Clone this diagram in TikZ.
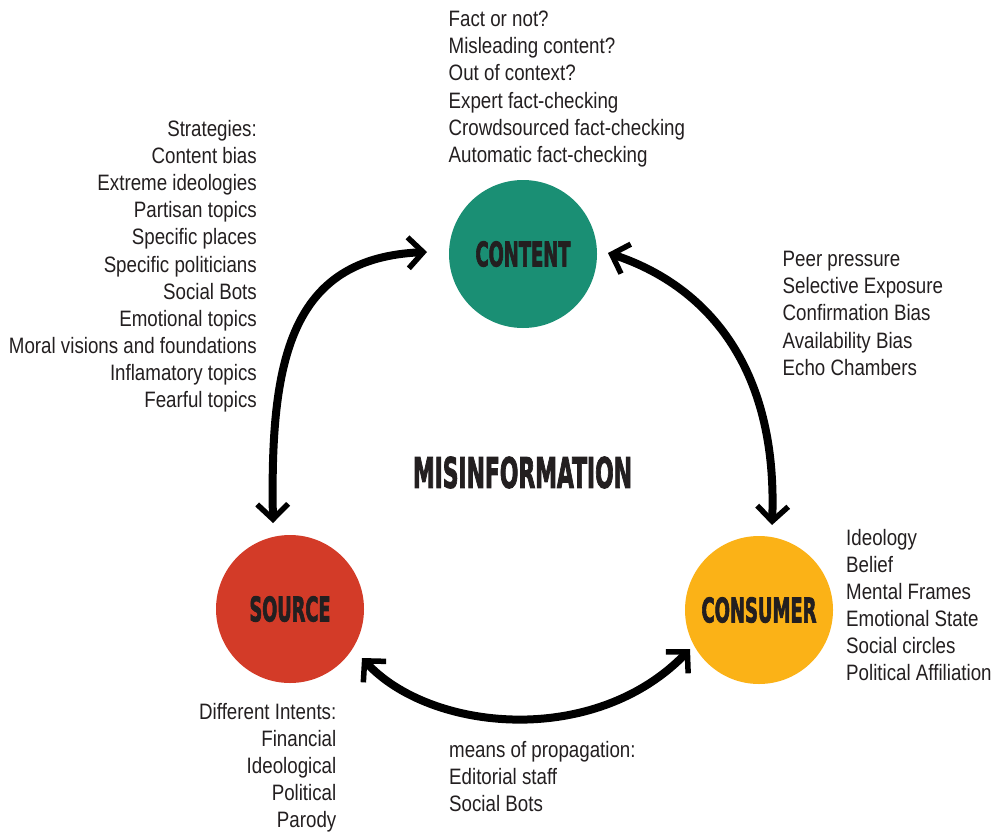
\documentclass[tikz,border=0pt]{standalone}
\usepackage{fontspec}
\setmainfont{Liberation Sans}[FakeStretch=0.84]
\newfontfamily\titlefont{DejaVu Sans}[BoldFeatures={FakeBold=3}]
\usetikzlibrary{arrows.meta,calc}
\definecolor{contentgreen}{RGB}{26,143,116}
\definecolor{sourcered}{RGB}{211,59,40}
\definecolor{consumeryellow}{RGB}{251,178,23}
\definecolor{textgray}{RGB}{35,31,32}
\newcommand\txtlist[2]{\begin{tabular}[t]{@{}#1@{}}#2\end{tabular}}
\newcommand\bigcaps[3]{\resizebox{#1pt}{#2pt}{\titlefont\bfseries #3}}
\begin{document}
\begin{tikzpicture}[x=1pt,y=-1pt,
  hub/.style={circle,minimum size=148pt,inner sep=0pt,text=textgray},
  listtext/.style={inner sep=0pt,text=textgray,font=\fontsize{22.3}{27.1}\selectfont},
  cycle/.style={line width=8pt,black,{Straight Barb[length=15pt,width=31pt,line width=5.5pt]}-{Straight Barb[length=15pt,width=31pt,line width=5.5pt]}}]
\useasboundingbox (0,0) rectangle (992,835);
\fill[white] (0,0) rectangle (992,835);

\node[hub,fill=contentgreen] (content) at (523,254) {\bigcaps{95}{25}{CONTENT}};
\node[hub,fill=sourcered] (source) at (290,609) {\bigcaps{81}{25}{SOURCE}};
\node[hub,fill=consumeryellow] (consumer) at (759,610) {\bigcaps{115}{25}{CONSUMER}};
\node[inner sep=0pt,text=textgray] (title) at (522.5,472.5) {\bigcaps{219}{31}{MISINFORMATION}};

\coordinate (cl) at ($(content.center)+(-96,-2)$);
\coordinate (cr) at ($(content.center)+(85,-1)$);
\coordinate (st) at ($(source.center)+(-17,-86)$);
\coordinate (sr) at ($(source.center)+(72,49)$);
\coordinate (ct) at ($(consumer.center)+(13,-85)$);
\coordinate (cw) at ($(consumer.center)+(-69,39)$);

\draw[cycle] (st) .. controls (270,360) and (290,258) .. (cl);
\draw[cycle] (cr) .. controls (705,285) and (778,365) .. (ct);
\draw[cycle] (sr) .. controls (430,732) and (595,748) .. (cw);

\node[listtext,anchor=base east] (strategies) at (257,136.5) {\txtlist{r}{Strategies:\\Content bias\\Extreme ideologies\\Partisan topics\\Specific places\\Specific politicians\\Social Bots\\Emotional topics\\Moral visions and foundations\\Inflamatory topics\\Fearful topics}};
\node[listtext,anchor=base west] (checks) at (448.5,26.7) {\txtlist{l}{Fact or not?\\Misleading content?\\Out of context?\\Expert fact-checking\\Crowdsourced fact-checking\\Automatic fact-checking}};
\node[listtext,anchor=base west] (biases) at (782.5,266.7) {\txtlist{l}{Peer pressure\\Selective Exposure\\Confirmation Bias\\Availability Bias\\Echo Chambers}};
\node[listtext,anchor=base west] (traits) at (846,545) {\txtlist{l}{Ideology\\Belief\\Mental Frames\\Emotional State\\Social circles\\Political Affiliation}};
\node[listtext,anchor=base east] (intents) at (336.5,719.3) {\txtlist{r}{Different Intents:\\Financial\\Ideological\\Political\\Parody}};
\node[listtext,anchor=base west] (means) at (449,757.3) {\txtlist{l}{means of propagation:\\Editorial staff\\Social Bots}};
\end{tikzpicture}
\end{document}
